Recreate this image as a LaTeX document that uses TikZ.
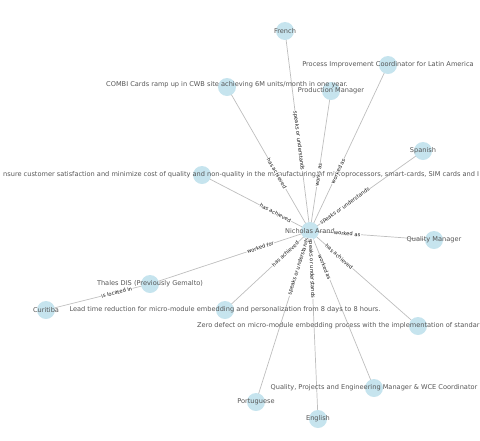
\documentclass[tikz,border=0pt]{standalone}
\usepackage{fontspec}
\setmainfont{DejaVu Sans}
\definecolor{dotc}{RGB}{198,228,238}
\definecolor{edgec}{RGB}{190,190,190}
\definecolor{ntc}{RGB}{85,85,85}
\definecolor{etc}{RGB}{20,20,20}
\pgfdeclarelayer{edges}
\pgfdeclarelayer{dots}
\pgfdeclarelayer{elabels}
\pgfsetlayers{edges,dots,main,elabels}
\tikzset{
  dot/.style={circle,fill=dotc,draw=none,minimum size=18pt,inner sep=0pt},
  ntext/.style={text=ntc,font=\fontsize{6.6}{7}\selectfont,inner sep=0pt},
  conn/.style={draw=edgec,line width=0.7pt},
  elab/.style={sloped,fill=white,rounded corners=1pt,inner sep=0.6pt,text=etc,font=\fontsize{5.2}{6}\selectfont}
}
\begin{document}
\begin{tikzpicture}[x=1pt,y=-1pt]
\useasboundingbox (0,0) rectangle (480,440);
\clip (0,0) rectangle (480,440);
\begin{pgfonlayer}{dots}
\node[dot] (C) at (310,231) {};
\node[dot] (fr) at (285,31) {};
\node[dot] (pic) at (388,65) {};
\node[dot] (pm) at (331,91) {};
\node[dot] (combi) at (227,87) {};
\node[dot] (sp) at (423,151) {};
\node[dot] (ens) at (202,175) {};
\node[dot] (qm) at (434,240) {};
\node[dot] (thales) at (150,284) {};
\node[dot] (cur) at (46,310) {};
\node[dot] (lead) at (225,310) {};
\node[dot] (zero) at (418,326) {};
\node[dot] (qpe) at (374,388) {};
\node[dot] (pt) at (256,402) {};
\node[dot] (en) at (318,419) {};
\end{pgfonlayer}
\begin{pgfonlayer}{edges}
\foreach \t in {fr,pic,pm,combi,sp,ens,qm,thales,lead,zero,qpe,pt,en}{
  \draw[conn] (C.center) -- (\t.center);
}
\draw[conn] (thales.center) -- (cur.center);
\end{pgfonlayer}
% node labels
\node[ntext] (Ct) at (C) {Nicholas Arand};
\node[ntext] (frt) at (fr) {French};
\node[ntext] (pict) at (pic) {Process Improvement Coordinator for Latin America};
\node[ntext] (pmt) at (pm) {Production Manager};
\node[ntext] (combit) at (227,85) {COMBI Cards ramp up in CWB site achieving 6M units/month in one year.};
\node[ntext] (spt) at (sp) {Spanish};
\node[ntext,anchor=west] (enst) at (3,175) {nsure customer satisfaction and minimize cost of quality and non-quality in the manufacturing of microprocessors, smart-cards, SIM cards and I};
\node[ntext] (qmt) at (qm) {Quality Manager};
\node[ntext] (thalest) at (thales) {Thales DIS (Previously Gemalto)};
\node[ntext] (curt) at (cur) {Curitiba};
\node[ntext] (leadt) at (lead) {Lead time reduction for micro-module embedding and personalization from 8 days to 8 hours.};
\node[ntext,anchor=west] (zerot) at (197,326) {Zero defect on micro-module embedding process with the implementation of standar};
\node[ntext] (qpet) at (qpe) {Quality, Projects and Engineering Manager \& WCE Coordinator};
\node[ntext] (ptt) at (pt) {Portuguese};
\node[ntext] (ent) at (en) {English};
\begin{pgfonlayer}{elabels}
\path (C.center) -- node[elab,pos=0.45] (l1) {speaks or understands} (fr.center);
\path (C.center) -- node[elab,pos=0.40] (l2) {works as} (pm.center);
\path (C.center) -- node[elab,pos=0.36] (l3) {worked as} (pic.center);
\path (C.center) -- node[elab,pos=0.40] (l4) {has achieved} (combi.center);
\path (C.center) -- node[elab,pos=0.31] (l5) {speaks or understands} (sp.center);
\path (C.center) -- node[elab,pos=0.32] (l6) {has achieved} (ens.center);
\path (C.center) -- node[elab,pos=0.30] (l7) {worked as} (qm.center);
\path (C.center) -- node[elab,pos=0.31] (l8) {worked for} (thales.center);
\path (C.center) -- node[elab,pos=0.29] (l9) {has achieved} (lead.center);
\path (C.center) -- node[elab,pos=0.27] (l10) {has achieved} (zero.center);
\path (C.center) -- node[elab,pos=0.23] (l11) {worked as} (qpe.center);
\path (C.center) -- node[elab,pos=0.21] (l12) {speaks or understands} (pt.center);
\path (C.center) -- node[elab,pos=0.20] (l13) {speaks or understands} (en.center);
\path (thales.center) -- node[elab,pos=0.32] (l14) {is located in} (cur.center);
\end{pgfonlayer}
\end{tikzpicture}
\end{document}
